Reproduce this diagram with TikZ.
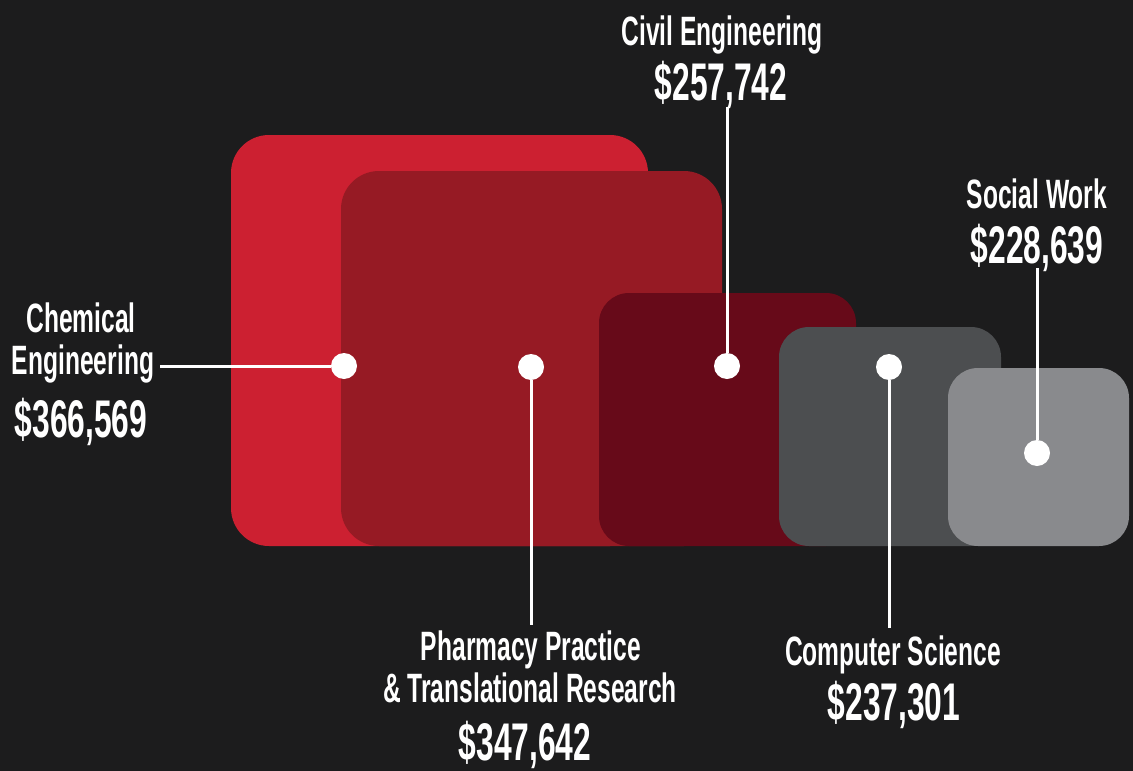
\documentclass[tikz,border=0pt]{standalone}
\usepackage{fontspec}
\setmainfont[FakeStretch=0.6]{Liberation Sans}
\definecolor{bgdark}{HTML}{1C1C1D}
\definecolor{redA}{HTML}{CC2031}
\definecolor{redB}{HTML}{961A24}
\definecolor{redC}{HTML}{670A19}
\definecolor{greyA}{HTML}{4C4E50}
\definecolor{greyB}{HTML}{898A8D}

\begin{document}
\begin{tikzpicture}[x=1pt,y=-1pt]
  % 定义样式
  \tikzset{bigbox/.style = {rounded corners=38pt}}
  \tikzset{smallbox/.style = {rounded corners=30pt}}
  \tikzset{dot/.style = {circle, fill=white, minimum size=26pt, inner sep=0pt}}
  \tikzset{edge/.style = {draw=white, line width=3pt}}
  \tikzset{lab/.style = {text=white, anchor=base, inner sep=0pt, font=\fontsize{41}{44}\selectfont\bfseries}}
  \tikzset{amt/.style = {text=white, anchor=base, inner sep=0pt, font=\fontsize{53}{56}\selectfont\bfseries}}

  % 背景
  \fill[bgdark] (0,0) rectangle (1133,771);
  \useasboundingbox (0,0) rectangle (1133,771);

  % 方块
  \fill[bigbox, redA] (231,135) rectangle (648,546);
  \fill[bigbox, redB] (341,171) rectangle (722,546);
  \fill[smallbox, redC] (599,293) rectangle (856,546);
  \fill[smallbox, greyA] (779,327) rectangle (1001,546);
  \fill[smallbox, greyB] (948,368) rectangle (1129,546);

  % 圆点
  \node[dot] (chem) at (344,366) {};
  \node[dot] (pharm) at (531,367) {};
  \node[dot] (civil) at (727,366) {};
  \node[dot] (comp) at (889,367) {};
  \node[dot] (social) at (1037,453) {};

  % 标签
  \node[lab] (chem1) at (81,332) {Chemical};
  \node[lab] (chem2) at (83,374) {Engineering};
  \node[amt] (chemv) at (81,437) {\$366,569};

  \node[lab] (pharm1) at (531,660) {Pharmacy Practice};
  \node[lab] (pharm2) at (530,702) {\& Translational Research};
  \node[amt] (pharmv) at (525,760) {\$347,642};

  \node[lab] (civil1) at (722,45) {Civil Engineering};
  \node[amt] (civilv) at (721,100) {\$257,742};

  \node[lab] (comp1) at (893,665) {Computer Science};
  \node[amt] (compv) at (894,720) {\$237,301};

  \node[lab] (social1) at (1037,208) {Social Work};
  \node[amt] (socialv) at (1037,263) {\$228,639};

  % 连线
  \coordinate (chemend) at (160,366);
  \coordinate (pharmend) at (531,625);
  \coordinate (civilend) at (727,107);
  \coordinate (compend) at (889,628);
  \coordinate (socialend) at (1037,268);
  \draw[edge] (chemend) -- (chem);
  \draw[edge] (pharm) -- (pharmend);
  \draw[edge] (civilend) -- (civil);
  \draw[edge] (comp) -- (compend);
  \draw[edge] (socialend) -- (social);
\end{tikzpicture}
\end{document}
